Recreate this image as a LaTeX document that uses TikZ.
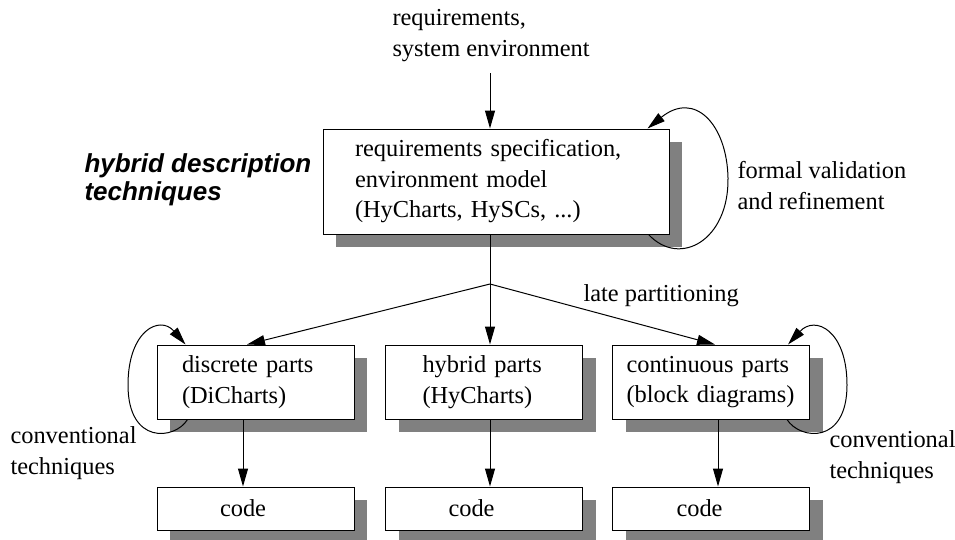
\documentclass[tikz,border=0pt]{standalone}
\usepackage{fontspec}
\setmainfont{Liberation Serif}
\newfontfamily\headsans{Liberation Sans}
\usetikzlibrary{arrows.meta,shadows}
\definecolor{shadowgray}{RGB}{128,128,128}
\begin{document}
\begin{tikzpicture}[x=1pt,y=-1pt,
  line width=1pt,
  txt/.style={inner sep=0pt, align=left, font=\fontsize{24.4}{30.5}\selectfont},
  head/.style={inner sep=0pt, align=left, font=\headsans\bfseries\itshape\fontsize{26}{28}\selectfont},
  box/.style={draw, fill=white, rectangle, inner ysep=2pt, align=left,
    font=\fontsize{24.4}{30.5}\selectfont,
    drop shadow={shadow xshift=13pt, shadow yshift=-13pt, fill=shadowgray, opacity=1}},
  arr/.style={-{Triangle[length=18pt,width=10pt]}},
]
\useasboundingbox (0,0) rectangle (955,539);

% main specification box
\node[box, text width=282pt, inner xsep=32pt, minimum height=105pt] (spec) at (496,181.5)
  {requirements specification,\\environment model\\(HyCharts, HySCs, ...)};

% partition boxes
\node[box, text width=147pt, inner xsep=25pt, minimum height=74pt] (disc) at (255.5,382)
  {discrete parts\\(DiCharts)};
\node[box, text width=123pt, inner xsep=37pt, minimum height=74pt] (hyb) at (484,382)
  {hybrid parts\\(HyCharts)};
\node[box, text width=169pt, inner xsep=14pt, minimum height=74pt] (cont) at (711,382)
  {continuous parts\\(block diagrams)};

% code boxes
\node[box, text width=71pt, inner xsep=63pt, minimum height=43pt] (code1) at (255.5,508.5) {code};
\node[box, text width=71pt, inner xsep=63pt, minimum height=43pt] (code2) at (484,508.5) {code};
\node[box, text width=69pt, inner xsep=64pt, minimum height=43pt] (code3) at (711,508.5) {code};

% labels (anchored at the baseline of their last line)
\node[txt, anchor=base west] (req) at (392,56) {requirements,\\system environment};
\node[txt, anchor=base west] (fv) at (737,209) {formal validation\\and refinement};
\node[head, anchor=base west] (hdt) at (84,200) {hybrid description\\techniques};
\node[txt, anchor=base west] (late) at (583,301) {late partitioning};
\node[txt, anchor=base west] (convl) at (10,474) {conventional\\techniques};
\node[txt, anchor=base west] (convr) at (829,478) {conventional\\techniques};

% input arrow
\coordinate (src) at (490,73);
\draw[arr] (src) -- (src |- spec.north);

% partitioning fork
\coordinate (fork) at (490,284);
\draw (spec.south -| fork) -- (fork);
\draw[arr] (fork) -- ([xshift=-8.5pt]disc.north);
\draw[arr] (fork) -- ([xshift=6pt]hyb.north);
\draw[arr] (fork) -- ([xshift=4pt]cont.north);

% code generation
\draw[arr] ([xshift=-12.5pt]disc.south) -- ([xshift=-12.5pt]code1.north);
\draw[arr] ([xshift=6pt]hyb.south) -- ([xshift=6pt]code2.north);
\draw[arr] ([xshift=7pt]cont.south) -- ([xshift=7pt]code3.north);

% self loops
\draw[arr] ([xshift=-21pt]spec.south east) .. controls (680,268) and (729,240) .. (728,178)
  .. controls (727,125) and (695,90) .. ([xshift=-22pt]spec.north east);
\draw[arr] ([xshift=31pt]disc.south west) .. controls (175,440) and (128,445) .. (128,385)
  .. controls (128,330) and (160,315) .. ([xshift=29pt]disc.north west);
\draw[arr] ([xshift=-23pt]cont.south east) .. controls (800,440) and (847,445) .. (847,385)
  .. controls (847,330) and (815,315) .. ([xshift=-22pt]cont.north east);
\end{tikzpicture}
\end{document}
